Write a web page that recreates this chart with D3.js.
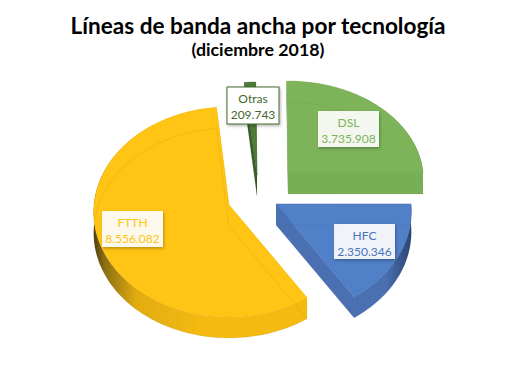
<!DOCTYPE html>
<html lang="es">

<head>
    <meta charset="UTF-8">
    <title>Líneas de banda ancha por tecnología</title>
    <script src="https://d3js.org/d3.v7.min.js"></script>
    <style>
        html, body { margin: 0; padding: 0; background: #fff; }
        svg { display: block; }
        text { font-family: Lato, sans-serif; }
        .title { font-size: 22.6px; font-weight: bold; text-anchor: middle; fill: #000; }
        .subtitle { font-size: 17.8px; font-weight: bold; text-anchor: middle; fill: #000; }
        .label { font-size: 12px; text-anchor: middle; }
    </style>
</head>

<body>
    <svg id="chart" width="515" height="373"></svg>
    <script>
        const categories = ["DSL", "HFC", "FTTH", "Otras"];
        const values = [3735908, 2350346, 8556082, 209743];

        const topColors = ["#7DB45A", "#5080C8", "#FFC414", "#4F7D38"];
        const wallColors = ["#78AE56", "#4A70B2", "#F4BA12", "#3C5E2A"];
        const darkColors = ["#3E5E2C", "#2C4674", "#4E3F10", "#243A18"];
        const labelColors = ["#7DB45A", "#4A74BE", "#FFC414", "#43682B"];

        // where each slice's point sits, its vertical radius, and its label box
        const apex = { DSL: [288, 173], HFC: [276, 204], FTTH: [229, 205], Otras: [257, 175] };
        const radiusY = { DSL: 98, HFC: 104.5, FTTH: 104.5, Otras: 99 };
        const labelBox = {
            DSL: [318, 111, 61, 36], HFC: [334, 224, 61, 35],
            FTTH: [102, 211, 61, 36], Otras: [227, 87, 52, 37]
        };

        const radiusX = 135;
        const depth = 21;
        const perspective = 0.0667;
        const rotation = -0.6 * Math.PI / 180;

        const chart = d3.select("#chart");
        const defs = chart.append("defs");

        const shadow = defs.append("filter").attr("id", "shadow")
            .attr("x", "-20%").attr("y", "-20%").attr("width", "150%").attr("height", "150%");
        shadow.append("feDropShadow")
            .attr("dx", 1).attr("dy", 1.5).attr("stdDeviation", 1.8)
            .attr("flood-color", "#000").attr("flood-opacity", 0.3);

        chart.append("text").attr("class", "title").attr("x", 258).attr("y", 34)
            .text("Líneas de banda ancha por tecnología");
        chart.append("text").attr("class", "subtitle").attr("x", 258).attr("y", 56)
            .text("(diciembre 2018)");

        const pie = d3.pie().sort(null).startAngle(rotation).endAngle(rotation + 2 * Math.PI);
        const slices = pie(values).map((d, i) => ({ ...d, name: categories[i], i }));
        const fmt = d3.formatLocale({ decimal: ",", thousands: ".", grouping: [3], currency: ["", "€"] }).format(",d");

        // ground point -> screen, nearer points come out a little bigger
        function project(d, a, r = 1, drop = 0) {
            const u = Math.sin(a) * r, v = -Math.cos(a) * r;
            const w = 1 / (1 - perspective * v);
            const [ax, ay] = apex[d.name];
            return [ax + radiusX * u * w, ay + radiusY[d.name] * v * w + drop];
        }

        const line = d3.line();
        const arcAngles = d => {
            const n = Math.max(4, Math.ceil((d.endAngle - d.startAngle) * 40));
            return d3.range(n + 1).map(k => d.startAngle + (d.endAngle - d.startAngle) * k / n);
        };

        const facePoints = (d, drop) => [project(d, 0, 0, drop)].concat(arcAngles(d).map(a => project(d, a, 1, drop)));
        const wallPoints = d => arcAngles(d).map(a => project(d, a, 1, 0))
            .concat(arcAngles(d).reverse().map(a => project(d, a, 1, depth)));
        const radialWall = (d, a) => [project(d, 0, 0, 0), project(d, a, 1, 0), project(d, a, 1, depth), project(d, 0, 0, depth)];

        // outer wall shading runs dark towards the outside edge
        slices.forEach(d => {
            const xs = wallPoints(d).map(p => p[0]);
            const g = defs.append("linearGradient").attr("id", "wall" + d.i)
                .attr("gradientUnits", "userSpaceOnUse")
                .attr("x1", d3.min(xs)).attr("x2", d3.max(xs)).attr("y1", 0).attr("y2", 0);
            const stops = d.name === "FTTH"
                ? [[0, darkColors[d.i]], [0.05, "#8A6E12"], [0.2, "#E2AC10"], [0.5, wallColors[d.i]], [1, wallColors[d.i]]]
                : [[0, wallColors[d.i]], [0.55, wallColors[d.i]], [1, darkColors[d.i]]];
            stops.forEach(s => g.append("stop").attr("offset", s[0]).attr("stop-color", s[1]));
        });

        const sliceGroups = chart.append("g").selectAll("g").data(slices).enter().append("g");

        sliceGroups.append("path")
            .attr("d", d => line(wallPoints(d)) + "Z")
            .attr("fill", d => "url(#wall" + d.i + ")");
        // left-facing radial walls are in shadow, the others take the wall colour
        sliceGroups.append("path")
            .attr("d", d => line(radialWall(d, d.startAngle)) + "Z")
            .attr("fill", d => d.name === "DSL" ? darkColors[d.i] : wallColors[d.i]);
        sliceGroups.append("path")
            .attr("d", d => line(radialWall(d, d.endAngle)) + "Z")
            .attr("fill", d => d.name === "Otras" ? darkColors[d.i] : wallColors[d.i]);

        sliceGroups.append("path")
            .attr("d", d => line(facePoints(d, 0)) + "Z")
            .attr("fill", d => topColors[d.i])
            .attr("stroke", d => wallColors[d.i])
            .attr("stroke-width", 0.5);

        // faint see-through outline of the underside
        sliceGroups.append("path")
            .attr("d", d => line(facePoints(d, depth)) + "Z")
            .attr("fill", "none")
            .attr("stroke", d => darkColors[d.i])
            .attr("stroke-opacity", 0.12)
            .attr("stroke-width", 0.7);

        const labels = chart.append("g").selectAll("g").data(slices).enter().append("g");

        labels.append("rect")
            .attr("x", d => labelBox[d.name][0])
            .attr("y", d => labelBox[d.name][1])
            .attr("width", d => labelBox[d.name][2])
            .attr("height", d => labelBox[d.name][3])
            .attr("fill", d => d.name === "Otras" ? "#fff" : "rgba(255,255,255,0.9)")
            .attr("stroke", d => d.name === "Otras" ? "#43682B" : "none")
            .attr("filter", "url(#shadow)");

        labels.append("text").attr("class", "label")
            .attr("x", d => labelBox[d.name][0] + labelBox[d.name][2] / 2)
            .attr("y", d => labelBox[d.name][1] + 15.5)
            .attr("fill", d => labelColors[d.i])
            .text(d => d.name);

        labels.append("text").attr("class", "label")
            .attr("x", d => labelBox[d.name][0] + labelBox[d.name][2] / 2)
            .attr("y", d => labelBox[d.name][1] + 31.5)
            .attr("fill", d => labelColors[d.i])
            .text(d => fmt(d.value));
    </script>
</body>

</html>
